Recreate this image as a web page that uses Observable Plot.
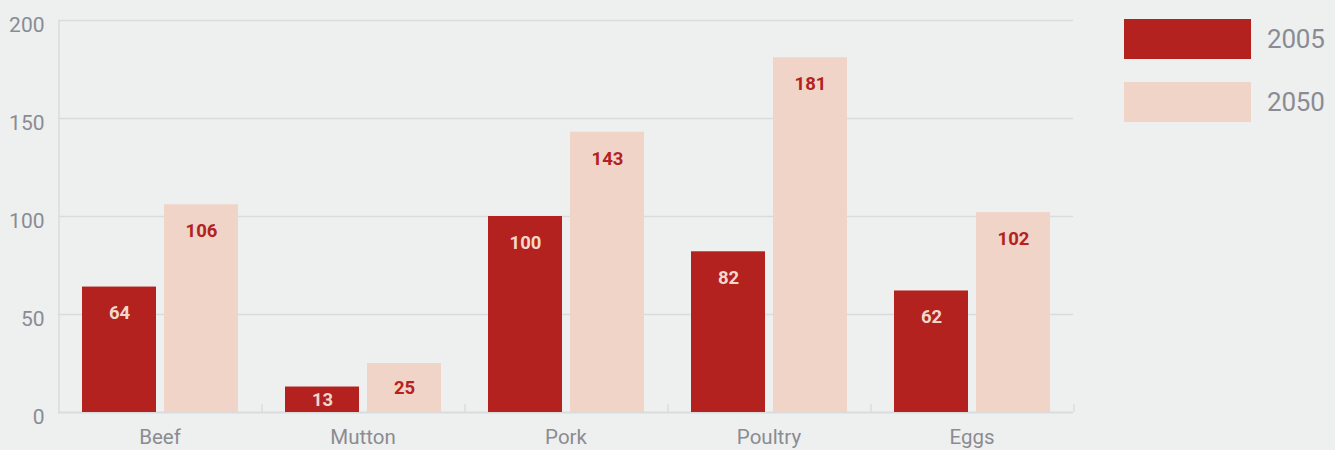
<!DOCTYPE html>
<html><head><meta charset="utf-8">
<script src="https://cdn.jsdelivr.net/npm/d3@7"></script>
<script src="https://cdn.jsdelivr.net/npm/@observablehq/plot@0.6"></script>
<style>
html,body{margin:0;padding:0;background:#eef0ef;}
#wrap{position:relative;width:1335px;height:450px;overflow:hidden;}
#legend{position:absolute;left:1124px;top:19px;font-family:Roboto,sans-serif;color:#8b8b93;}
.item{display:flex;align-items:center;height:40px;margin-bottom:23px;}
.sw{width:127px;height:40px;margin-right:16px;}
.lab{font-size:26px;letter-spacing:-0.2px;}
</style></head>
<body><div id="wrap"><div id="chart"></div><div id="legend"></div></div>
<script>
const categories = ["Beef","Mutton","Pork","Poultry","Eggs"];
const years = ["2005","2050"];
const values2005 = [64,13,100,82,62];
const values2050 = [106,25,143,181,102];
const yTicks = [0,50,100,150,200];
const colors = ["#b3221e","#f0d4c8"];
const labelColors = ["#f2d8cc","#b3221e"];

const data = [];
categories.forEach((c,i)=>{
  data.push({cat:c, year:years[0], value:values2005[i]});
  data.push({cat:c, year:years[1], value:values2050[i]});
});
const bounds = categories.slice(1).map(c=>({cat:c}));
const edgeOffset = 60.5; // half bar + outer padding, in px

const chart = Plot.plot({
  width:1335, height:450,
  marginLeft:58, marginRight:262, marginTop:20, marginBottom:38,
  style:{background:"#eef0ef", fontFamily:"Roboto, sans-serif"},
  fx:{domain:categories, padding:0, label:null, axis:null},
  x:{domain:years, paddingInner:0.0976, paddingOuter:0.2866, axis:null},
  y:{domain:[0,200], ticks:yTicks, label:null, axis:null},
  color:{domain:years, range:colors},
  marks:[
    Plot.gridY(yTicks.filter(v=>v>0), {stroke:"#d9dcdc", strokeOpacity:1, strokeWidth:1.5}),
    Plot.axisY(yTicks, {tickSize:0, tickPadding:14, dy:5, fontSize:21, fill:"#8b8b93", stroke:null, label:null}),
    Plot.ruleY([0], {stroke:"#d9dcdc", strokeWidth:2}),
    Plot.ruleX([{cat:"Beef"}], {fx:"cat", x:()=>years[0], dx:-edgeOffset, y1:0, y2:200, stroke:"#d9dcdc", strokeWidth:1.5}),
    Plot.ruleX(bounds, {fx:"cat", x:()=>years[0], dx:-edgeOffset, y1:0, y2:4, stroke:"#d9dcdc", strokeWidth:1.5}),
    Plot.ruleX([{cat:"Eggs"}], {fx:"cat", x:()=>years[1], dx:edgeOffset, y1:0, y2:4, stroke:"#d9dcdc", strokeWidth:1.5}),
    Plot.barY(data, {fx:"cat", x:"year", y:"value", fill:"year"}),
    Plot.text(data, {fx:"cat", x:"year", y:d=>Math.max(d.value/2, d.value-13.5), text:d=>String(d.value),
      fill:d=>labelColors[years.indexOf(d.year)], fontWeight:"bold", fontSize:18.5}),
    Plot.axisFx({anchor:"bottom", tickSize:0, tickPadding:17, fontSize:20.5, fill:"#8b8b93", label:null})
  ]
});
document.getElementById("chart").appendChild(chart);

const lg = document.getElementById("legend");
years.forEach((y,i)=>{
  const it = document.createElement("div"); it.className="item";
  const sw = document.createElement("div"); sw.className="sw"; sw.style.background=colors[i];
  const lb = document.createElement("span"); lb.className="lab"; lb.textContent=y;
  it.appendChild(sw); it.appendChild(lb); lg.appendChild(it);
});
</script></body></html>
